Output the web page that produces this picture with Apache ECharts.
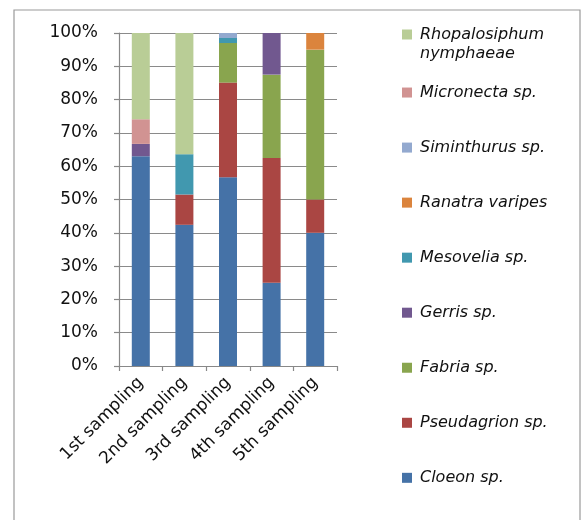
<!DOCTYPE html>
<html>
<head>
<meta charset="utf-8">
<script src="https://cdn.jsdelivr.net/npm/echarts@6/dist/echarts.min.js"></script>
<style>
  html, body { margin: 0; padding: 0; background: #fff; }
  #chart { width: 581px; height: 520px; }
</style>
</head>
<body>
<div id="chart"></div>
<script>
// Sampling rounds along the x axis
const categories = ['1st sampling', '2nd sampling', '3rd sampling', '4th sampling', '5th sampling'];

// Share of each taxon per sampling (%), bottom of the stack first
const cloeon        = [63.0, 42.4, 56.7, 25.0, 40.0];
const pseudagrion   = [0,    9.1,  28.4, 37.5, 10.0];
const fabria        = [0,    0,    11.9, 25.0, 45.0];
const gerris        = [3.7,  0,    0,    12.5, 0];
const mesovelia     = [0,    12.1, 1.5,  0,    0];
const ranatra       = [0,    0,    0,    0,    5.0];
const siminthurus   = [0,    0,    1.5,  0,    0];
const micronecta    = [7.4,  0,    0,    0,    0];
const rhopalosiphum = [25.9, 36.4, 0,    0,    0];

const seriesDefs = [
  { name: 'Cloeon sp.',              data: cloeon,        color: '#4572A7' },
  { name: 'Pseudagrion sp.',         data: pseudagrion,   color: '#AA4643' },
  { name: 'Fabria sp.',              data: fabria,        color: '#89A54E' },
  { name: 'Gerris sp.',              data: gerris,        color: '#71588F' },
  { name: 'Mesovelia sp.',           data: mesovelia,     color: '#4198AF' },
  { name: 'Ranatra varipes',         data: ranatra,       color: '#DB843D' },
  { name: 'Siminthurus sp.',         data: siminthurus,   color: '#93A9CF' },
  { name: 'Micronecta sp.',          data: micronecta,    color: '#D19392' },
  { name: 'Rhopalosiphum nymphaeae', data: rhopalosiphum, color: '#B9CD96' }
];

const FONT = 'DejaVu Sans';

// One legend block per taxon, top of the stack listed first
const legendOrder = seriesDefs.slice().reverse();
const legendFirstCenter = 34.5;
const legendStep = 55.04;
const legends = legendOrder.map((s, i) => {
  const twoLine = s.name === 'Rhopalosiphum nymphaeae';
  const center = legendFirstCenter + i * legendStep;
  return {
    orient: 'vertical',
    left: 402,
    // the long name wraps; a blank leading line keeps its first line level with the swatch
    top: twoLine ? center - 28.5 : center - 5,
    padding: 0,
    itemWidth: 10,
    itemHeight: 10,
    selectedMode: false,
    icon: 'rect',
    data: [s.name],
    formatter: twoLine ? '\nRhopalosiphum\nnymphaeae' : '{name}',
    textStyle: {
      fontFamily: FONT,
      fontStyle: 'italic',
      fontSize: 16,
      color: '#111',
      lineHeight: twoLine ? 19 : 10,
      padding: [0, 0, 0, 3]
    }
  };
});

const chart = echarts.init(document.getElementById('chart'));
chart.setOption({
  animation: false,
  backgroundColor: '#ffffff',
  graphic: [{
    type: 'rect',
    shape: { x: 14, y: 10, width: 566, height: 530 },
    style: { fill: 'none', stroke: '#9a9a9a', lineWidth: 1.2 },
    silent: true
  }],
  legend: legends,
  grid: { left: 119, right: 244, top: 33, bottom: 154 },
  xAxis: {
    type: 'category',
    data: categories,
    axisLine: { lineStyle: { color: '#888', width: 1.2 } },
    axisTick: { show: true, length: 5, interval: 0, lineStyle: { color: '#888', width: 1.2 } },
    axisLabel: {
      rotate: 45,
      interval: 0,
      margin: 14,
      fontFamily: FONT,
      fontSize: 17,
      color: '#111'
    }
  },
  yAxis: {
    type: 'value',
    min: 0,
    max: 100,
    interval: 10,
    axisLine: { show: true, lineStyle: { color: '#888', width: 1.2 } },
    axisTick: { show: true, length: 5, lineStyle: { color: '#888', width: 1.2 } },
    splitLine: { lineStyle: { color: '#8a8a8a', width: 1.2 } },
    axisLabel: {
      formatter: '{value}%',
      margin: 21,
      fontFamily: FONT,
      fontSize: 17,
      color: '#111'
    }
  },
  series: seriesDefs.map(s => ({
    name: s.name,
    type: 'bar',
    stack: 'total',
    barWidth: 18,
    data: s.data,
    itemStyle: { color: s.color }
  }))
});
</script>
</body>
</html>
